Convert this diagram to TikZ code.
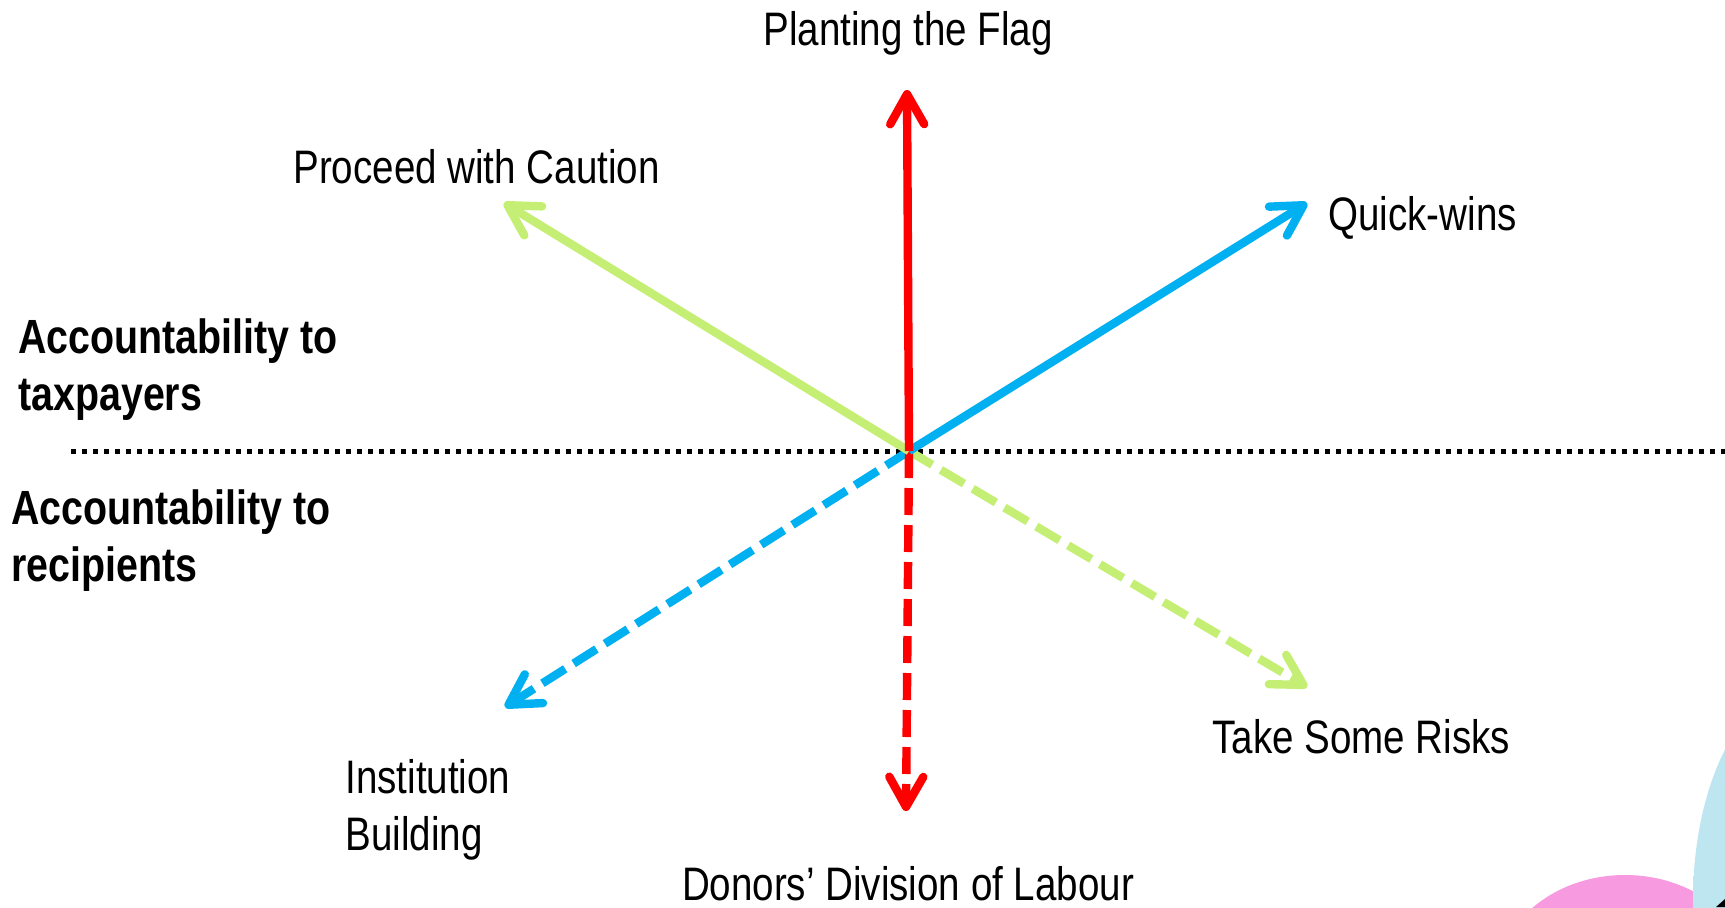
\documentclass[tikz,border=0pt]{standalone}
\usepackage{fontspec}
\setmainfont[FakeStretch=0.82]{Liberation Sans}
\usetikzlibrary{arrows.meta}
\definecolor{cred}{HTML}{FF0000}
\definecolor{cblue}{HTML}{00B0F0}
\definecolor{cgreen}{HTML}{C4EE74}
\definecolor{cyanblob}{HTML}{BEE6F0}
\definecolor{pinkblob}{HTML}{F79ADF}
\pgfdeclareradialshading{cyanshade}{\pgfpoint{0bp}{0bp}}{color(0bp)=(cyanblob);color(36bp)=(cyanblob);color(50bp)=(white)}
\pgfdeclareradialshading{pinkshade}{\pgfpoint{0bp}{0bp}}{color(0bp)=(pinkblob);color(34bp)=(pinkblob);color(50bp)=(white)}
\tikzset{
  axisarrow/.style={line width=4.2pt, -{Straight Barb[length=15pt,width=17pt,round]}},
  dashedarrow/.style={axisarrow, dash pattern=on 13.5pt off 5pt},
  dividerline/.style={line width=2.5pt, dash pattern=on 2.5pt off 3pt, black},
  lbl/.style={inner sep=0pt, font=\fontsize{23.5}{28}\selectfont},
  boldlbl/.style={inner sep=0pt, anchor=base west, font=\fontsize{24}{28.5}\selectfont\bfseries},
}
\begin{document}
\begin{tikzpicture}[x=0.5pt,y=-0.5pt]
\useasboundingbox (0,0) rectangle (1725,907);
% background blobs
\begin{scope}
  \clip (0,0) rectangle (1725,907);
  \shade[shading=pinkshade] (1625,985) ellipse [x radius=130, y radius=110];
  \shade[shading=cyanshade] (1805,900) ellipse [x radius=112, y radius=215];
  \fill[black] (1725,899) -- (1725,907) -- (1716,907) -- cycle;
\end{scope}
% coordinates
\coordinate (C) at (909,451);
\coordinate (dl) at (71,451);
\coordinate (dr) at (1725,451);
\coordinate (tN) at (907,90);
\coordinate (tS) at (906,811);
\coordinate (tNE) at (1307,203);
\coordinate (tSW) at (505,707);
\coordinate (tNW) at (504,203);
\coordinate (tSE) at (1307,687);
% divider
\draw[dividerline] (dl) -- (dr);
% dashed arrows
\draw[dashedarrow, cblue] (C) -- (tSW);
\draw[dashedarrow, cgreen] (C) -- (tSE);
\draw[dashedarrow, cred] (C) -- (tS);
% solid arrows
\draw[axisarrow, cgreen] (C) -- (tNW);
\draw[axisarrow, cblue] (C) -- (tNE);
\draw[axisarrow, cred] (C) -- (tN);
% labels
\node[lbl, anchor=base] (flag) at (908,45) {Planting the Flag};
\node[lbl, anchor=base west] (caution) at (293,183) {Proceed with Caution};
\node[lbl, anchor=base west] (quick) at (1328,230) {Quick-wins};
\node[lbl, anchor=base west] (risks) at (1212,753) {Take Some Risks};
\node[lbl, anchor=base west] (inst1) at (345,793) {Institution};
\node[lbl, anchor=base west] (inst2) at (345,850) {Building};
\node[lbl, anchor=base] (donors) at (908,900) {Donors’ Division of Labour};
\node[boldlbl] (tax1) at (18,353) {Accountability to};
\node[boldlbl] (tax2) at (18,410) {taxpayers};
\node[boldlbl] (rec1) at (11,524) {Accountability to};
\node[boldlbl] (rec2) at (11,581) {recipients};
\end{tikzpicture}
\end{document}
